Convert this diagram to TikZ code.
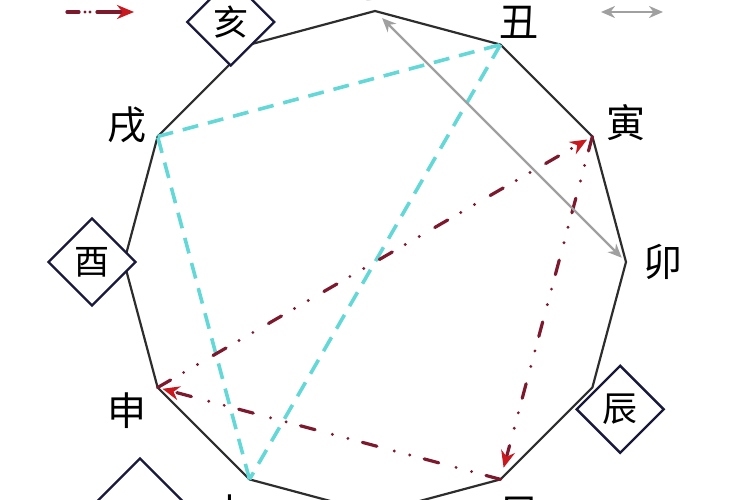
\documentclass[tikz,border=0pt]{standalone}
\usepackage{fontspec}
\newfontfamily\cjk{Noto Sans CJK SC}
\usetikzlibrary{arrows.meta,shapes.geometric}
\definecolor{polyc}{RGB}{45,45,45}
\definecolor{navy}{RGB}{25,25,60}
\definecolor{cyanl}{RGB}{100,215,215}
\definecolor{maroon}{RGB}{125,25,45}
\definecolor{redtip}{RGB}{200,25,30}
\definecolor{grayl}{RGB}{160,160,160}
\begin{document}
\begin{tikzpicture}[x=1pt,y=1pt,
  lab/.style={font=\cjk\fontsize{39}{39}\selectfont, inner sep=0pt},
  box/.style={diamond, draw=navy, line width=2.4pt, fill=white, minimum size=88pt, inner sep=0pt, font=\cjk\fontsize{35}{35}\selectfont},
  edge/.style={draw=polyc, line width=2.2pt, line join=round},
  tri/.style={draw=cyanl, line width=3.6pt, dash pattern=on 16pt off 10pt},
  pun/.style={draw=maroon, line width=3.2pt, line cap=round, dash pattern=on 15pt off 15pt on 0pt off 16pt on 0pt off 18pt, -{Stealth[length=17pt,width=14pt,color=redtip]}},
  clash/.style={draw=grayl, line width=2.4pt, {Stealth[length=14pt,width=12pt]}-{Stealth[length=14pt,width=12pt]}}
]
\useasboundingbox (0,0) rectangle (750,-500);
\clip (0,0) rectangle (750,-500);
\begin{scope}[shift={(375,-262)}]
\foreach \n/\a in {zi/90,chou/60,yin/30,mao/0,chen/-30,si/-60,wu/-90,wei/-120,shen/-150,you/180,xu/150,hai/120}
  \coordinate (\n) at (\a:251);
\end{scope}
% polygon
\draw[edge] (zi) -- (chou) -- (yin) -- (mao) -- (chen) -- (si) -- (wu) -- (wei) -- (shen) -- (you) -- (xu) -- (hai) -- cycle;
% cyan triangle
\draw[tri] (xu) -- (chou);
\draw[tri] (chou) -- (wei);
\draw[tri] (wei) -- (xu);
% red arrows
\draw[pun, shorten >=6pt] (shen) -- (yin);
\draw[pun, shorten >=12pt] (yin) -- (si);
\draw[pun, shorten >=5pt] (si) -- (shen);
% gray double arrow
\draw[clash, shorten <=10pt, shorten >=6pt] (zi) -- (mao);
% labels
\begin{scope}[shift={(375,-262)}]
\node[lab] (lzi) at (90:278) {子};
\node[lab] (lchou) at (59:280) {丑};
\node[lab] (lyin) at (29:287) {寅};
\node[lab] (lmao) at (0:288) {卯};
\node[box] (lchen) at (-31:286) {辰};
\node[lab] (lsi) at (-60:290) {巳};
\node[lab] (lwei) at (-120:290) {未};
\node[lab] (lshen) at (-149:289) {申};
\node[box] (lyou) at (180:283) {酉};
\node[lab] (lxu) at (151:283) {戌};
\node[box] (lhai) at (121:280) {亥};
\end{scope}
% legends
\coordinate (la) at (67,-12);
\coordinate (lb) at (134,-12);
\draw[pun, dash pattern=on 12pt off 6pt on 0pt off 5pt on 0pt off 7pt on 60pt] (la) -- (lb);
\coordinate (lc) at (601,-12);
\coordinate (ld) at (663,-12);
\draw[clash] (lc) -- (ld);
\node[box] (legbox) at (140,-502) {};
\end{tikzpicture}
\end{document}
